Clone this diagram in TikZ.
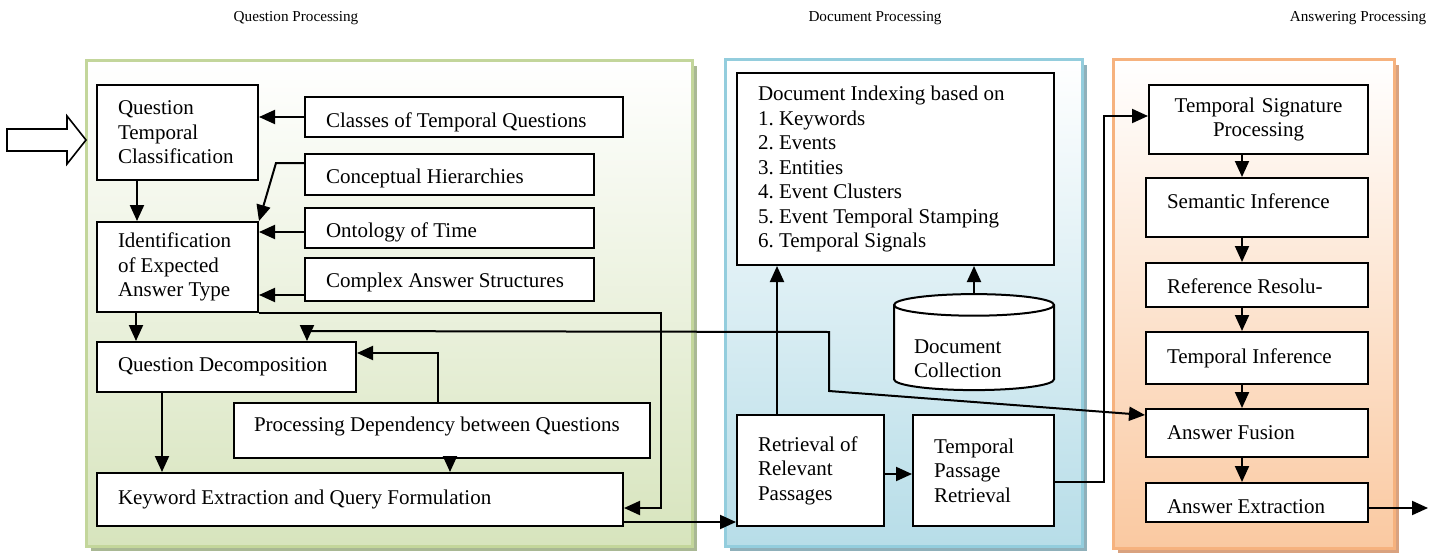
\documentclass[tikz,border=0pt]{standalone}
\usepackage{fontspec}
\setmainfont{Liberation Serif}
\usepackage{tikz}
\usetikzlibrary{arrows.meta,shapes.geometric}
\definecolor{grnbot}{HTML}{D7E4BD}
\definecolor{grnline}{HTML}{C3D69B}
\definecolor{grnshd}{HTML}{A9B894}
\definecolor{blubot}{HTML}{B7DDE8}
\definecolor{bluline}{HTML}{93CDDD}
\definecolor{blushd}{HTML}{8FB0BA}
\definecolor{orabot}{HTML}{FAC9A1}
\definecolor{oraline}{HTML}{F6B27E}
\definecolor{orashd}{HTML}{D9A27F}
\frenchspacing

\begin{document}
\begin{tikzpicture}
[every node/.style={inner sep=0pt, font=\fontsize{10.5pt}{12.25pt}\selectfont},
 ttl/.style={font=\fontsize{7.6pt}{9pt}\selectfont},
 blk/.style={draw=black, fill=white, line width=1pt, align=flush left, inner xsep=10.5pt},
 low/.style={text height=#1, text depth=0pt},
 arr/.style={line width=1pt, -{Triangle[length=8pt,width=7pt]}, color=black},
 arr2/.style={line width=1pt, {Triangle[length=8pt,width=7pt]}-{Triangle[length=8pt,width=7pt]}, color=black}]
\useasboundingbox (0pt,0pt) rectangle (716.5pt,-278pt);
\fill [grnshd] (45.5pt,-33pt) rectangle (348.5pt,-275.5pt);
\draw [draw=grnline, line width=1.5pt, top color=white, bottom color=grnbot] (43pt,-30.5pt) rectangle (346pt,-273pt);
\fill [blushd] (365pt,-32.5pt) rectangle (543.5pt,-275.5pt);
\draw [draw=bluline, line width=1.5pt, top color=white, bottom color=blubot] (362.5pt,-30pt) rectangle (541pt,-273pt);
\fill [orashd] (559pt,-32.5pt) rectangle (699.5pt,-276.5pt);
\draw [draw=oraline, line width=1.5pt, top color=white, bottom color=orabot] (556.5pt,-30pt) rectangle (697pt,-274pt);
\node (qptitle) [ttl] at (148pt, -9pt) {Question Processing};
\node (dptitle) [ttl] at (437.5pt, -9pt) {Document Processing};
\node (aptitle) [ttl] at (679pt, -9pt) {Answering Processing};
\draw [line width=0.8pt, fill=white] (3.5pt,-64.5pt) -- (33.5pt,-64.5pt) -- (33.5pt,-58pt) -- (43pt,-70pt) -- (33.5pt,-82pt) -- (33.5pt,-75.5pt) -- (3.5pt,-75.5pt) -- cycle;
\node (qtc) [blk, minimum width=80.5pt, minimum height=47.5pt, text width=59.5pt] at (88.75pt, -66.25pt) {Question\\Temporal\\Classification};
\node (ident) [blk, minimum width=80.5pt, minimum height=45pt, text width=59.5pt] at (88.75pt, -133.5pt) {Identification\\of Expected\\Answer Type};
\node (classes) [blk, low=10pt, minimum width=159pt, minimum height=20pt, text width=138pt] at (232pt, -58.5pt) {Classes of Temporal Questions};
\node (concept) [blk, low=8.5pt, minimum width=144.5pt, minimum height=20.5pt, text width=123.5pt] at (224.75pt, -87.25pt) {Conceptual Hierarchies};
\node (ontology) [blk, low=9pt, minimum width=144.5pt, minimum height=20pt, text width=123.5pt] at (224.75pt, -114pt) {Ontology of Time};
\node (complex) [blk, low=7.5pt, minimum width=144.5pt, minimum height=21.5pt, text width=123.5pt] at (224.75pt, -139.75pt) {Complex Answer Structures};
\node (qdec) [blk, minimum width=129.5pt, minimum height=25pt, text width=108.5pt] at (113.25pt, -183.5pt) {Question Decomposition};
\node (pdq) [blk, low=1pt, inner xsep=10pt, minimum width=208pt, minimum height=27.5pt, text width=188pt] at (221pt, -215.25pt) {Processing Dependency between Questions};
\node (kwq) [blk, minimum width=263pt, minimum height=26.5pt, text width=242pt] at (180pt, -249.75pt) {Keyword Extraction and Query Formulation};
\node (dind) [blk, minimum width=158.5pt, minimum height=96pt, text width=137.5pt] at (447.75pt, -84.5pt) {Document Indexing based on\\1. Keywords\\2. Events\\3. Entities\\4. Event Clusters\\5. Event Temporal Stamping\\6. Temporal Signals};
\node (coll) [cylinder, shape border rotate=90, aspect=0.18, draw=black, fill=white, line width=1pt, minimum width=80pt, minimum height=48pt, align=flush left, text width=60pt, text height=5pt, text depth=0pt] at (487pt, -174pt) {Document\\Collection};
\node (rrp) [blk, minimum width=73.5pt, minimum height=55.5pt, text width=52.5pt] at (405.25pt, -235.25pt) {Retrieval of\\Relevant\\Passages};
\node (tpr) [blk, minimum width=70.5pt, minimum height=55.5pt, text width=49.5pt] at (491.75pt, -235.25pt) {Temporal\\Passage\\Retrieval};
\node (tsp) [blk, align=center, minimum width=109.5pt, minimum height=34.5pt, text width=88.5pt] at (629.25pt, -59.75pt) {Temporal Signature\\Processing};
\node (sem) [blk, low=1pt, minimum width=111pt, minimum height=29.5pt, text width=90pt] at (628.5pt, -103.75pt) {Semantic Inference};
\node (ref) [blk, low=8pt, minimum width=111pt, minimum height=22pt, text width=90pt] at (628.5pt, -142.5pt) {Reference Resolu-};
\node (tinf) [blk, minimum width=111pt, minimum height=26pt, text width=90pt] at (628.5pt, -179pt) {Temporal Inference};
\node (fus) [blk, minimum width=111pt, minimum height=24pt, text width=90pt] at (628.5pt, -216.5pt) {Answer Fusion};
\node (ext) [blk, low=10.5pt, minimum width=111pt, minimum height=19.5pt, text width=90pt] at (628.5pt, -251.25pt) {Answer Extraction};
\coordinate (colx) at (621pt, 0pt);
\coordinate (out) at (714pt, -254pt);
\draw [arr] (classes.west) -- (classes.west -| qtc.east);
\draw [arr] ([yshift=5.75pt]concept.west) -- ++(-14pt,0) -- (ident.north east);
\draw [arr] ([yshift=-2pt]ontology.west) -- ([yshift=-2pt]ontology.west -| ident.east);
\draw [arr] ([yshift=-7.75pt]complex.west) -- ([yshift=-7.75pt]complex.west -| ident.east);
\draw [arr] ([xshift=-20.25pt]qtc.south) -- ([xshift=-20.25pt]ident.north);
\draw [arr] ([xshift=-20.75pt]ident.south) -- ([xshift=-20.75pt]ident.south |- qdec.north);
\draw [arr] (ident.south east) -- ++(201pt,0) |- ([yshift=-4.25pt]kwq.east);
\draw [arr] ([xshift=-32.25pt]qdec.south) -- ([xshift=-32.25pt]qdec.south |- kwq.north);
\draw [arr] ([xshift=-2pt]pdq.north) |- ([yshift=7pt]qdec.east);
\draw [arr] ([xshift=4pt]pdq.south) -- ([xshift=4pt]pdq.south |- kwq.north);
\draw [arr2] ([xshift=40.25pt]qdec.north) -- ++(0,5pt) -- (414.5pt,-166pt) -- (414.5pt,-195.5pt) -- ([yshift=9pt]fus.west);
\draw [arr] ([yshift=-11.25pt]kwq.east) -- ([yshift=-11.25pt]kwq.east -| rrp.west);
\draw [arr] ([xshift=-16.75pt]rrp.north) -- ([xshift=-16.75pt]rrp.north |- dind.south);
\draw [arr] (coll.north) -- (coll.north |- dind.south);
\draw [arr] ([yshift=-1.75pt]rrp.east) -- ([yshift=-1.75pt]rrp.east -| tpr.west);
\draw [arr] ([yshift=-5.75pt]tpr.east) -- ++(24.5pt,0) |- ([yshift=1.75pt]tsp.west);
\foreach \a/\b in {tsp/sem, sem/ref, ref/tinf, tinf/fus, fus/ext}
  \draw [arr] (\a.south -| colx) -- (\b.north -| colx);
\draw [arr] ([yshift=-2.75pt]ext.east) -- (out);
\end{tikzpicture}
\end{document}
